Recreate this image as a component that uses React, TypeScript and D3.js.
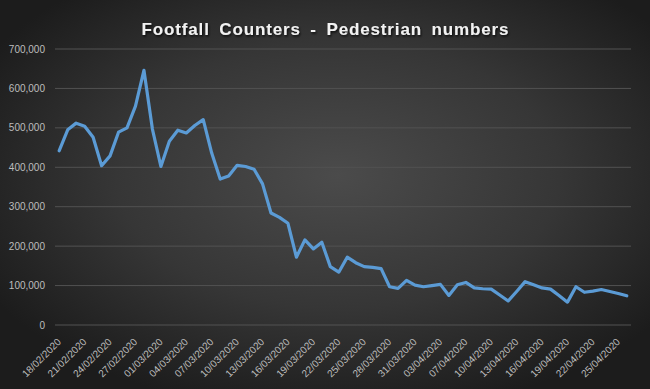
import React from "react";
import { scaleLinear, scalePoint, line, format } from "d3";

// daily footfall, 18/02/2020 .. 26/04/2020 (one day missing early April)
const dates = [
  "18/02/2020", "19/02/2020", "20/02/2020", "21/02/2020", "22/02/2020", "23/02/2020",
  "24/02/2020", "25/02/2020", "26/02/2020", "27/02/2020", "28/02/2020", "29/02/2020",
  "01/03/2020", "02/03/2020", "03/03/2020", "04/03/2020", "05/03/2020", "06/03/2020",
  "07/03/2020", "08/03/2020", "09/03/2020", "10/03/2020", "11/03/2020", "12/03/2020",
  "13/03/2020", "14/03/2020", "15/03/2020", "16/03/2020", "17/03/2020", "18/03/2020",
  "19/03/2020", "20/03/2020", "21/03/2020", "22/03/2020", "23/03/2020", "24/03/2020",
  "25/03/2020", "26/03/2020", "27/03/2020", "28/03/2020", "29/03/2020", "30/03/2020",
  "31/03/2020", "01/04/2020", "02/04/2020", "03/04/2020", "04/04/2020", "05/04/2020",
  "07/04/2020", "08/04/2020", "09/04/2020", "10/04/2020", "11/04/2020", "12/04/2020",
  "13/04/2020", "14/04/2020", "15/04/2020", "16/04/2020", "17/04/2020", "18/04/2020",
  "19/04/2020", "20/04/2020", "21/04/2020", "22/04/2020", "23/04/2020", "24/04/2020",
  "25/04/2020", "26/04/2020",
];

const pedestrians = [
  442000, 495000, 512000, 504000, 476000, 404000, 429000, 489000, 500000, 555000,
  646000, 497000, 402000, 466000, 494000, 487000, 506000, 521000, 436000, 370000,
  378000, 405000, 402000, 395000, 358000, 284000, 273000, 258000, 172000, 216000,
  193000, 210000, 148000, 134000, 172000, 158000, 148000, 146000, 143000, 97000,
  93000, 113000, 101000, 97000, 100000, 103000, 75000, 102000, 108000, 94000,
  92000, 91000, 76000, 61000, 85000, 110000, 102000, 94000, 91000, 75000,
  58000, 97000, 83000, 86000, 90000, 85000, 80000, 74000,
];

const yTicks = [0, 100000, 200000, 300000, 400000, 500000, 600000, 700000];
const title = "Footfall Counters - Pedestrian numbers";

const width = 650;
const height = 389;
const margin = { top: 49, right: 19, bottom: 64, left: 55 };

export default function App() {
  const innerW = width - margin.left - margin.right;
  const x = scalePoint<string>()
    .domain(dates)
    .range([margin.left, margin.left + innerW])
    .padding(0.5);
  const y = scaleLinear()
    .domain([0, 700000])
    .range([height - margin.bottom, margin.top]);
  const fmt = format(",");

  const path = line<number>()
    .x((d, i) => x(dates[i]) as number)
    .y((d) => y(d));

  const shownDates = dates.filter((d, i) => i % 3 === 0);

  return (
    <svg
      width={width}
      height={height}
      style={{ position: "absolute", left: 0, top: 0 }}
      fontFamily="'Liberation Sans', Arial, sans-serif"
    >
      <defs>
        <radialGradient id="bg" cx="52%" cy="45%" r="62%">
          <stop offset="0%" stopColor="#4b4b4b" />
          <stop offset="55%" stopColor="#363636" />
          <stop offset="100%" stopColor="#1c1c1c" />
        </radialGradient>
        <filter id="shadow" x="-10%" y="-50%" width="120%" height="200%">
          <feDropShadow dx="1" dy="1.5" stdDeviation="1" floodColor="#000" floodOpacity="0.8" />
        </filter>
      </defs>
      <rect width={width} height={height} fill="url(#bg)" />

      <text
        x={width / 2}
        y={35}
        textAnchor="middle"
        fill="#f2f2f2"
        fontSize={17}
        fontWeight="bold"
        wordSpacing={4}
        textLength={367}
        lengthAdjust="spacing"
        filter="url(#shadow)"
      >
        {title}
      </text>

      {yTicks.map((t) => (
        <g key={t}>
          <line
            x1={margin.left}
            x2={width - margin.right}
            y1={y(t)}
            y2={y(t)}
            stroke="#525252"
            strokeWidth={1}
          />
          <text
            x={45}
            y={y(t)}
            dy="0.35em"
            textAnchor="end"
            fill="#bdbdbd"
            fontSize={10}
          >
            {fmt(t)}
          </text>
        </g>
      ))}

      {shownDates.map((d) => (
        <text
          key={d}
          transform={`translate(${(x(d) as number)},${height - margin.bottom + 15}) rotate(-45)`}
          dy="0.35em"
          textAnchor="end"
          fill="#bdbdbd"
          fontSize={10}
        >
          {d}
        </text>
      ))}

      <path
        d={path(pedestrians) || ""}
        fill="none"
        stroke="#5b9bd5"
        strokeWidth={3.2}
        strokeLinejoin="round"
        strokeLinecap="round"
      />
    </svg>
  );
}
